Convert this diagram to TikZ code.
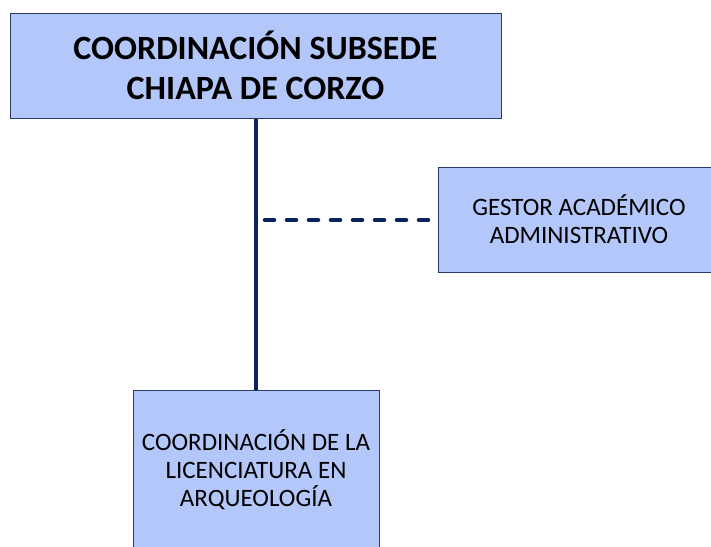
\documentclass[tikz,border=0pt]{standalone}
\usepackage{fontspec}
\setmainfont{Carlito}
\definecolor{boxfill}{RGB}{180,199,250}
\definecolor{boxdraw}{RGB}{40,60,110}
\definecolor{navy}{RGB}{10,35,95}
\begin{document}
\begin{tikzpicture}[x=1pt,y=1pt,
  orgbox/.style={draw=boxdraw,line width=1pt,fill=boxfill,rectangle,align=center,inner sep=0pt},
  bigtext/.style={font=\fontsize{34}{40}\selectfont\bfseries},
  smalltext/.style={font=\fontsize{25}{28}\selectfont},
  solidlink/.style={draw=navy,line width=3.2pt},
  dashlink/.style={draw=navy,line width=3.5pt,line cap=round,dash pattern=on 10pt off 12pt}]
\useasboundingbox (0,0) rectangle (711,-546);
\node[orgbox,bigtext,minimum width=491pt,minimum height=105pt] (top) at (255.5,-65.5) {COORDINACIÓN SUBSEDE\\CHIAPA DE CORZO};
\node[orgbox,smalltext,minimum width=282pt,minimum height=105pt] (gestor) at (579,-219.5) {GESTOR ACADÉMICO\\ADMINISTRATIVO};
\node[orgbox,smalltext,minimum width=246pt,minimum height=160pt] (lic) at (256,-470) {COORDINACIÓN DE LA\\LICENCIATURA EN\\ARQUEOLOGÍA};
\coordinate (tap) at (264.5,-220);
\draw[solidlink] (top.south -| lic.north) -- (lic.north);
\draw[dashlink] (tap) -- (gestor.west |- tap);
\end{tikzpicture}
\end{document}
